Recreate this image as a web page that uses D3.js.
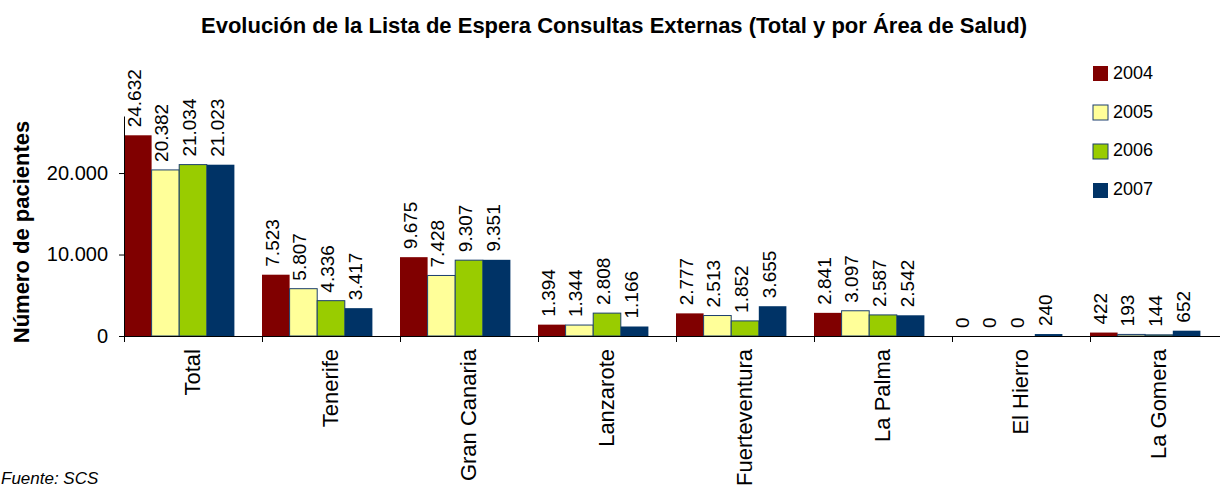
<!DOCTYPE html>
<html>
<head>
<meta charset="utf-8">
<script src="https://cdn.jsdelivr.net/npm/d3@7"></script>
<style>
  body { margin: 0; background: #fff; }
  text { font-family: "Liberation Sans", Arial, sans-serif; fill: #000; }
</style>
</head>
<body>
<div id="chart"></div>
<script>
// data
const CATEGORIES = ["Total", "Tenerife", "Gran Canaria", "Lanzarote", "Fuerteventura", "La Palma", "El Hierro", "La Gomera"];
const YEARS = ["2004", "2005", "2006", "2007"];
const V2004 = [24632, 7523, 9675, 1394, 2777, 2841, 0, 422];
const V2005 = [20382, 5807, 7428, 1344, 2513, 3097, 0, 193];
const V2006 = [21034, 4336, 9307, 2808, 1852, 2587, 0, 144];
const V2007 = [21023, 3417, 9351, 1166, 3655, 2542, 240, 652];
const Y_TICKS = [0, 10000, 20000];
const COLORS = ["#800000", "#FFFF99", "#99CC00", "#003366"];

const FRAME_WIDTH = 1220;
const FRAME_HEIGHT = 488;
const MARGINS = {left: 124, top: 116, bottom: 336};
const BAND = 138;

const SERIES = [V2004, V2005, V2006, V2007];

// spanish number format: 24.632
const FMT = d3.formatLocale({decimal: ",", thousands: ".", grouping: [3], currency: ["", ""]}).format(",d");

const FRAME = d3.select("#chart")
  .append("svg")
    .attr("width", FRAME_WIDTH)
    .attr("height", FRAME_HEIGHT);

FRAME.append("rect").attr("width", FRAME_WIDTH).attr("height", FRAME_HEIGHT).attr("fill", "#fff");

// scales
const X_SCALE = d3.scaleBand()
  .domain(CATEGORIES)
  .range([MARGINS.left, MARGINS.left + BAND * CATEGORIES.length]);

const X_INNER = d3.scaleBand()
  .domain(YEARS)
  .range([0, X_SCALE.bandwidth() * 0.8]);

const Y_SCALE = d3.scaleLinear()
  .domain([0, 27000])
  .range([MARGINS.bottom, MARGINS.top]);

// bars
const rows = [];
CATEGORIES.forEach((c, ci) => {
  YEARS.forEach((y, yi) => {
    rows.push({cat: c, year: y, yi: yi, value: SERIES[yi][ci]});
  });
});

FRAME.selectAll(".bar")
  .data(rows)
  .enter()
  .append("rect")
    .attr("class", "bar")
    .attr("x", (d) => X_SCALE(d.cat) + X_INNER(d.year))
    .attr("y", (d) => Y_SCALE(d.value))
    .attr("width", X_INNER.bandwidth())
    .attr("height", (d) => Y_SCALE(0) - Y_SCALE(d.value))
    .attr("fill", (d) => COLORS[d.yi])
    .attr("stroke", (d) => (d.yi == 1 || d.yi == 2) ? "#1c3f6e" : "none")
    .attr("stroke-width", 1);

// value labels, rotated
FRAME.selectAll(".val")
  .data(rows)
  .enter()
  .append("text")
    .attr("class", "val")
    .attr("transform", (d) => {
      let x = X_SCALE(d.cat) + X_INNER(d.year) + X_INNER.bandwidth() / 2 + 3;
      let y = Y_SCALE(d.value) - 8;
      return "translate(" + x + "," + y + ") rotate(-90)";
    })
    .style("font-size", "19px")
    .text((d) => FMT(d.value));

// y axis
const yAxis = FRAME.append("g")
  .attr("transform", "translate(" + MARGINS.left + ",0)")
  .call(d3.axisLeft(Y_SCALE).tickValues(Y_TICKS).tickFormat(FMT).tickSize(5).tickSizeOuter(0).tickPadding(11));
yAxis.selectAll("text").style("font-size", "20px");
yAxis.selectAll("line, path").attr("stroke", "#000");

// x axis: line plus ticks on band edges
const xAxis = FRAME.append("g");
xAxis.append("line")
  .attr("x1", MARGINS.left).attr("x2", FRAME_WIDTH)
  .attr("y1", Y_SCALE(0) + 0.5).attr("y2", Y_SCALE(0) + 0.5)
  .attr("stroke", "#000");
xAxis.selectAll(".xtick")
  .data(CATEGORIES)
  .enter()
  .append("line")
    .attr("x1", (d) => X_SCALE(d) + 0.5).attr("x2", (d) => X_SCALE(d) + 0.5)
    .attr("y1", Y_SCALE(0)).attr("y2", Y_SCALE(0) + 6)
    .attr("stroke", "#000");

// category labels
xAxis.selectAll(".cat")
  .data(CATEGORIES)
  .enter()
  .append("text")
    .attr("class", "cat")
    .attr("transform", (d) => "translate(" + (X_SCALE(d) + X_SCALE.bandwidth() / 2 + 7) + "," + (Y_SCALE(0) + 13) + ") rotate(-90)")
    .attr("text-anchor", "end")
    .style("font-size", "22px")
    .text((d) => d);

// title
FRAME.append("text")
  .attr("x", 614)
  .attr("y", 33)
  .attr("text-anchor", "middle")
  .attr("font-weight", "bold")
  .style("font-size", "22px")
  .text("Evolución de la Lista de Espera Consultas Externas (Total y por Área de Salud)");

// y axis title
FRAME.append("text")
  .attr("transform", "translate(29,232) rotate(-90)")
  .attr("text-anchor", "middle")
  .attr("font-weight", "bold")
  .style("font-size", "22px")
  .text("Número de pacientes");

// legend
const LEGEND = FRAME.append("g");
LEGEND.selectAll("rect")
  .data(YEARS)
  .enter()
  .append("rect")
    .attr("x", 1093)
    .attr("y", (d, i) => 66 + i * 39)
    .attr("width", 15)
    .attr("height", 15)
    .attr("fill", (d, i) => COLORS[i])
    .attr("stroke", (d, i) => (i == 1 || i == 2) ? "#1c3f6e" : "none");
LEGEND.selectAll("text")
  .data(YEARS)
  .enter()
  .append("text")
    .attr("x", 1113)
    .attr("y", (d, i) => 79 + i * 38.7)
    .style("font-size", "18px")
    .text((d) => d);

// source note
FRAME.append("text")
  .attr("x", 1)
  .attr("y", 484)
  .attr("font-style", "italic")
  .style("font-size", "17px")
  .text("Fuente: SCS");
</script>
</body>
</html>
